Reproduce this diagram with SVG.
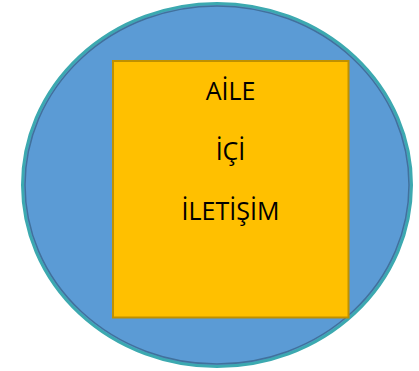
<svg xmlns="http://www.w3.org/2000/svg" width="419" height="371" viewBox="0 0 419 371">
<style>
.lbl{font-family:"Open Sans","Liberation Sans",sans-serif;font-size:25px;fill:#000;text-anchor:middle}
</style>
<g id="circle">
<ellipse cx="217" cy="185" rx="194.5" ry="181.5" fill="#5B9BD5" stroke="#3CA9B0" stroke-width="3"/>
<ellipse cx="217" cy="185" rx="192" ry="179" fill="none" stroke="#41719C" stroke-width="1.5"/>
</g>
<g id="box">
<rect x="113" y="61" width="235.5" height="256.5" fill="#FFC000" stroke="#BF9000" stroke-width="2"/>
<text class="lbl" x="230.5" y="100">AİLE</text>
<text class="lbl" x="230.5" y="160">İÇİ</text>
<text class="lbl" x="230.5" y="220">İLETİŞİM</text>
</g>
</svg>
